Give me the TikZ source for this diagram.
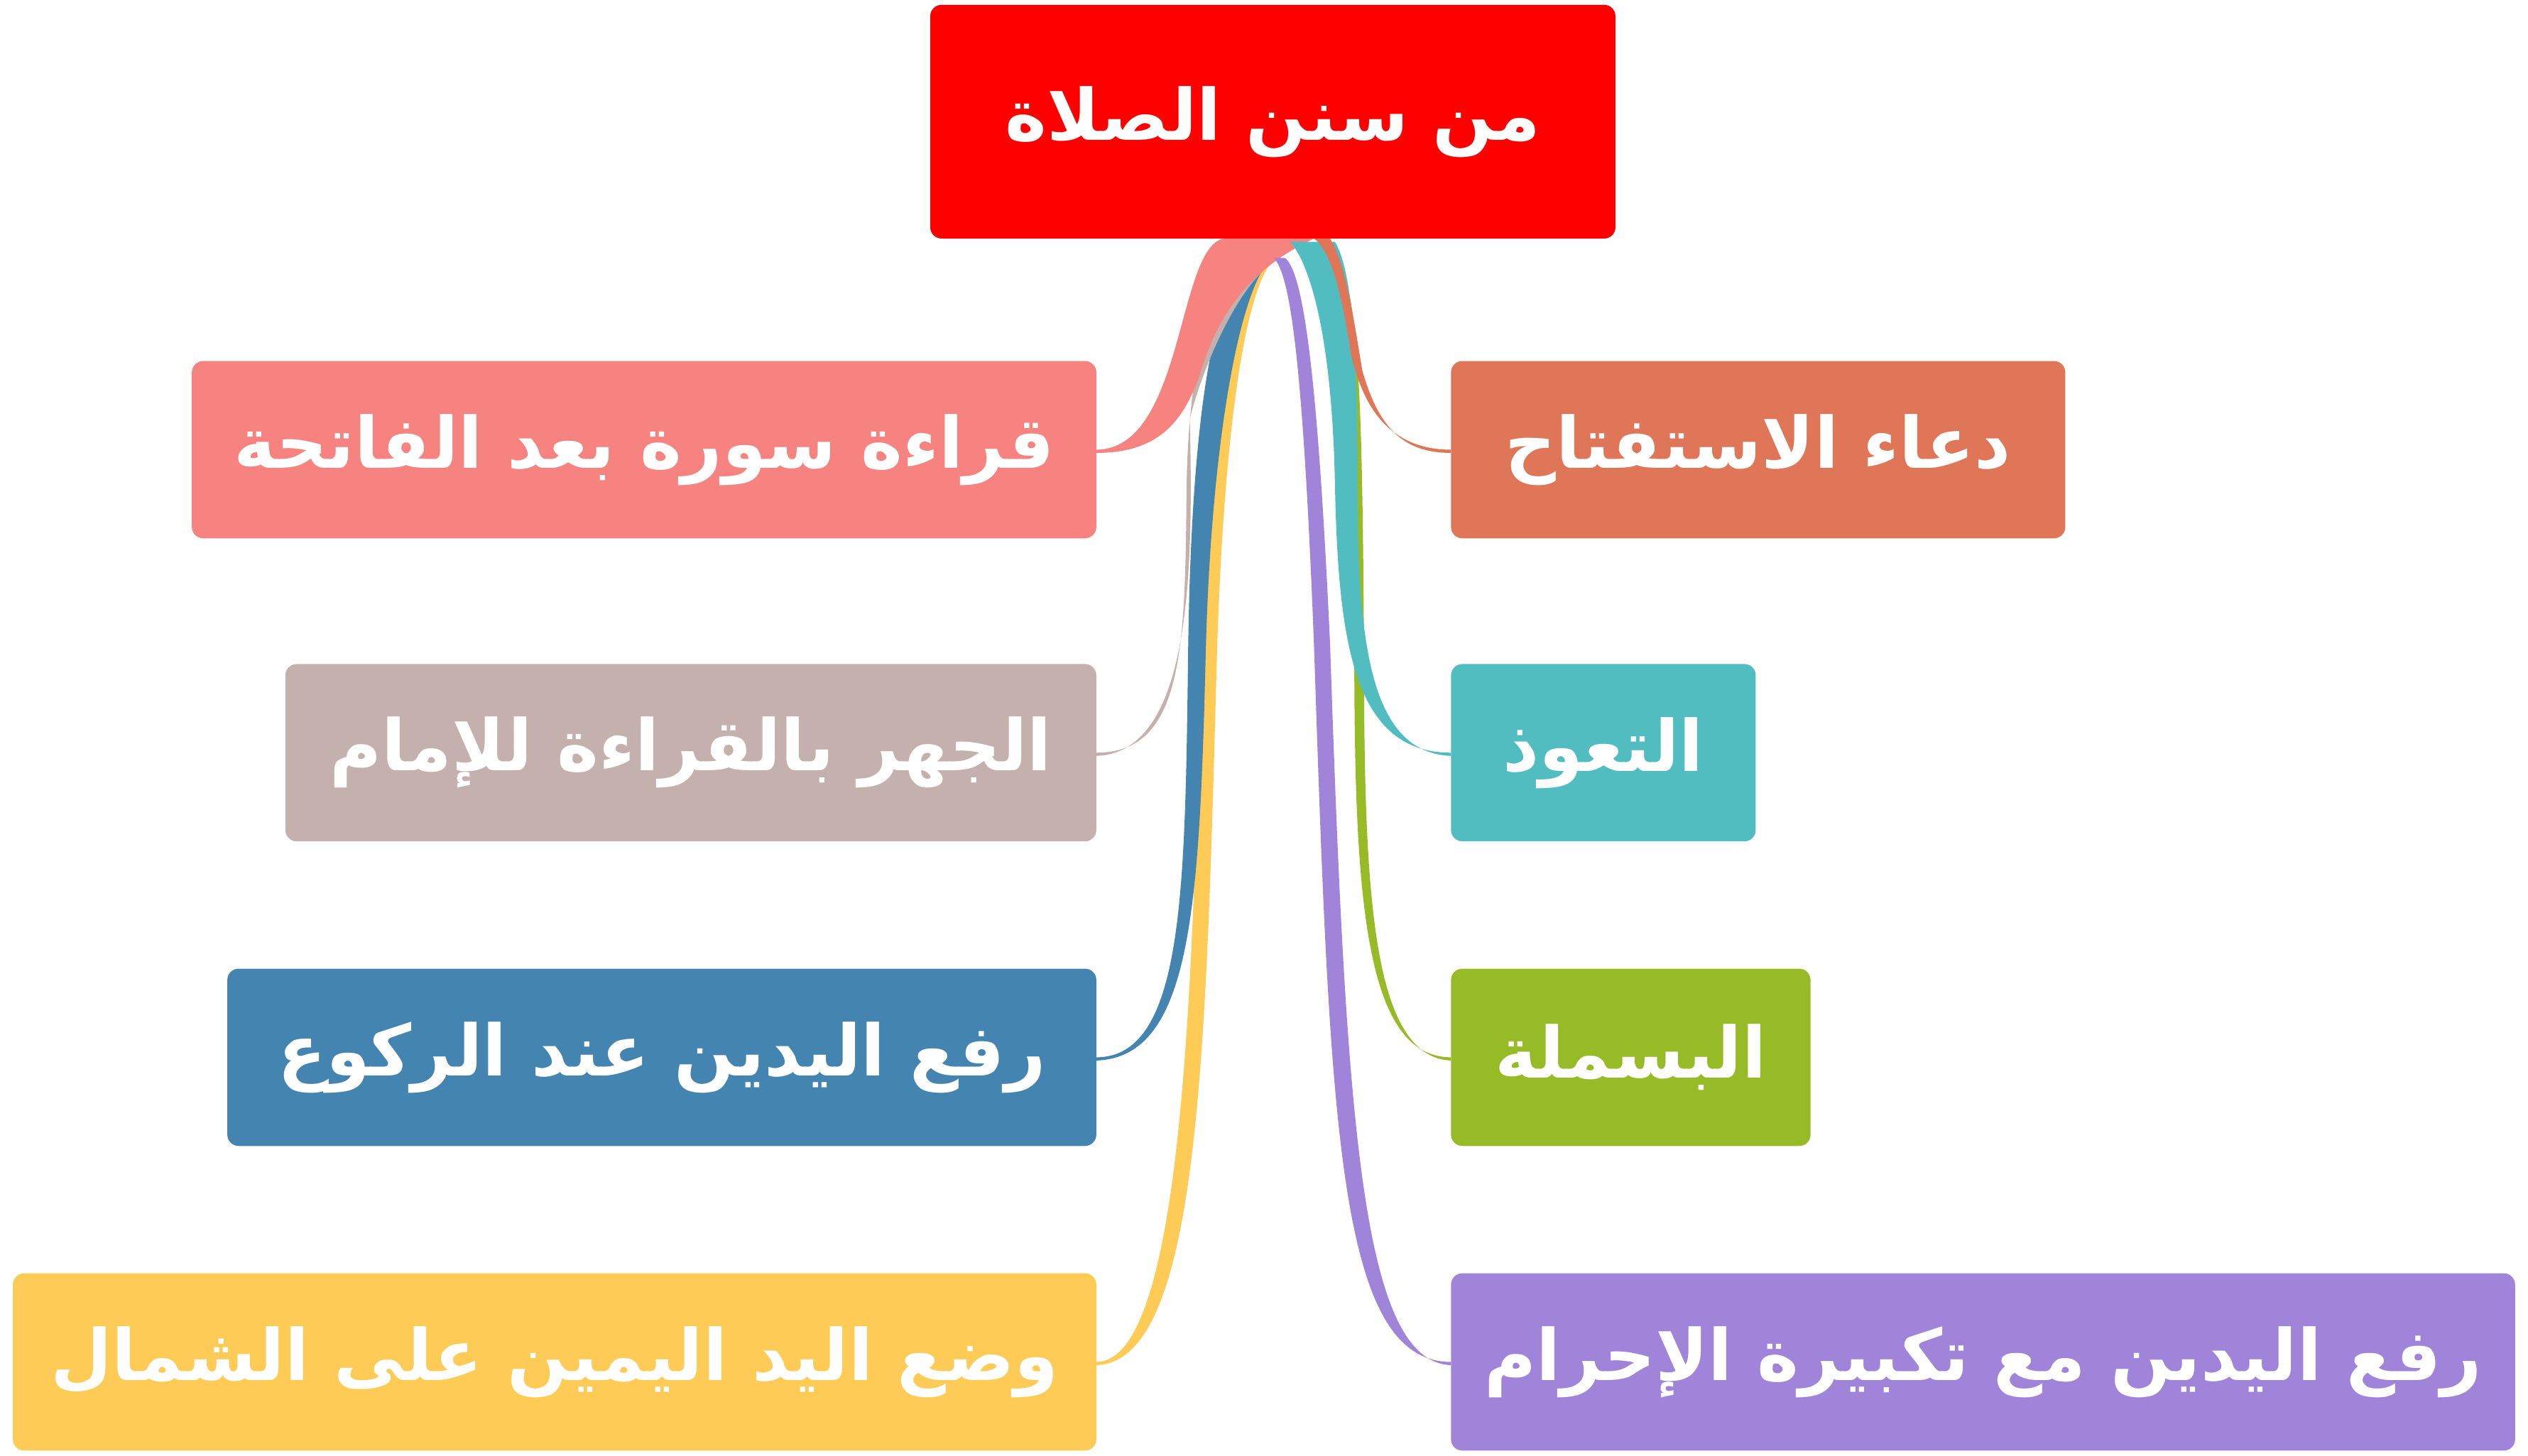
\documentclass[tikz,border=0pt]{standalone}
\usepackage{fontspec}
\usetikzlibrary{calc}
\TeXXeTstate=1
\newfontfamily\arabicfont[Script=Arabic]{DejaVu Sans}
\definecolor{rootred}{HTML}{FF0000}
\definecolor{cSalmon}{HTML}{F78380}
\definecolor{cBeige}{HTML}{C4B0AC}
\definecolor{cBlue}{HTML}{4484B0}
\definecolor{cYellow}{HTML}{FECB57}
\definecolor{cOrange}{HTML}{E07658}
\definecolor{cTeal}{HTML}{52BDC0}
\definecolor{cGreen}{HTML}{97BB26}
\definecolor{cPurple}{HTML}{A084DA}
\tikzset{
  sunna/.style={text=white, font=\arabicfont\bfseries\fontsize{12.5}{15}\selectfont},
}
% box: name, colour, x0, y0, x1, y1, text
\newcommand{\sunnabox}[7]{%
  \fill[#2, rounded corners=2pt] (#3,#4) rectangle (#5,#6);
  \node[sunna] (#1) at ({(#3+#5)/2},{(#4+#6)/2}) {\beginR #7\endR};
  \coordinate (#1-l) at (#3,{(#4+#6)/2});
  \coordinate (#1-r) at (#5,{(#4+#6)/2});
}
\begin{document}
\begin{tikzpicture}[x=0.01cm,y=-0.01cm]
  \useasboundingbox (0,0) rectangle (1568,903);
  % boxes
  \sunnabox{root}{rootred}{577}{3}{1002}{148}{من سنن الصلاة}
  \sunnabox{cs}{cSalmon}{119}{224}{680}{334}{قراءة سورة بعد الفاتحة}
  \sunnabox{cg}{cBeige}{177}{412}{680}{522}{الجهر بالقراءة للإمام}
  \sunnabox{cb}{cBlue}{141}{601}{680}{711}{رفع اليدين عند الركوع}
  \sunnabox{cy}{cYellow}{8}{790}{680}{900}{وضع اليد اليمين على الشمال}
  \sunnabox{co}{cOrange}{900}{224}{1281}{334}{دعاء الاستفتاح}
  \sunnabox{ct}{cTeal}{900}{412}{1089}{522}{التعوذ}
  \sunnabox{cgr}{cGreen}{900}{601}{1123}{711}{البسملة}
  \sunnabox{cp}{cPurple}{900}{790}{1560}{900}{رفع اليدين مع تكبيرة الإحرام}
  % ribbons to the left
  \fill[cYellow] (cy-r) .. controls (735,845) and (740,600) .. (745,400) .. controls (750,200) and (765,160) .. (785,160) -- (792,160) .. controls (775,170) and (760,250) .. (755,400) .. controls (748,650) and (745,845) .. ($(cy-r)+(0,2)$) -- cycle;
  \fill[cBlue] (cb-r) .. controls (735,656) and (735,550) .. (737,400) .. controls (740,200) and (765,160) .. (782,160) -- (790,160) .. controls (772,170) and (752,260) .. (748,400) .. controls (744,560) and (740,656) .. ($(cb-r)+(0,2)$) -- cycle;
  \fill[cBeige] (cg-r) .. controls (735,467) and (735,400) .. (736,300) .. controls (738,200) and (760,160) .. (780,160) -- (795,160) .. controls (770,170) and (745,230) .. (738,260) .. controls (740,350) and (740,467) .. ($(cg-r)+(0,2)$) -- cycle;
  \fill[cSalmon] (cs-r) .. controls (735,279) and (730,150) .. (760,148) -- (815,148) .. controls (790,160) and (760,180) .. (745,230) .. controls (735,260) and (720,281) .. ($(cs-r)+(0,2)$) -- cycle;
  % ribbons to the right
  \fill[cPurple] (cp-l) .. controls (830,845) and (825,700) .. (815,400) .. controls (808,220) and (800,170) .. (790,160) -- (797,160) .. controls (810,170) and (818,250) .. (825,400) .. controls (835,700) and (845,845) .. ($(cp-l)+(0,2)$) -- cycle;
  \fill[cGreen] (cgr-l) .. controls (845,656) and (840,550) .. (840,400) .. controls (840,250) and (835,170) .. (820,160) -- (828,160) .. controls (843,175) and (845,250) .. (846,400) .. controls (846,550) and (850,656) .. ($(cgr-l)+(0,2)$) -- cycle;
  \fill[cTeal] (ct-l) .. controls (840,467) and (830,400) .. (828,300) .. controls (826,200) and (810,160) .. (800,150) -- (828,150) .. controls (840,170) and (842,230) .. (842,300) .. controls (842,400) and (850,467) .. ($(ct-l)+(0,2)$) -- cycle;
  \fill[cOrange] (co-l) .. controls (860,279) and (845,250) .. (838,220) .. controls (832,180) and (825,155) .. (815,148) -- (825,148) .. controls (835,165) and (840,200) .. (845,230) .. controls (855,265) and (870,281) .. ($(co-l)+(0,2)$) -- cycle;
\end{tikzpicture}
\end{document}
